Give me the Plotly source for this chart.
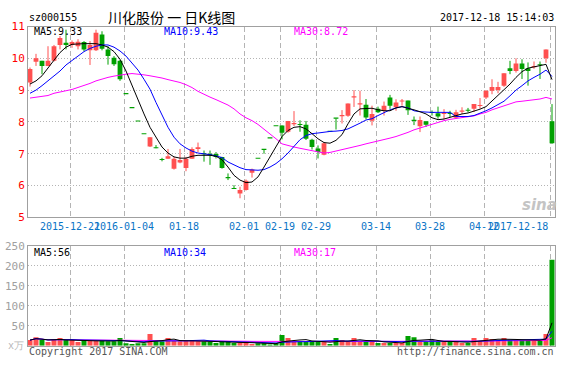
import plotly.graph_objects as go
import pandas as pd

# ---------------- data ----------------
opens = [9.24, 9.89, 9.92, 9.76, 9.92, 10.42, 10.49, 10.42, 10.38, 10.51, 10.25, 10.25, 10.75, 10.28, 10.02, 9.92,
         8.87, 8.43, 8.01, 7.61, 7.23, 7.20, 6.83, 6.84, 6.53, 6.72, 6.55, 6.84, 7.15, 7.00, 7.00, 6.99,
         6.90, 6.27, 5.92, 5.75, 5.86, 6.40, 6.84, 7.13, 7.48, 7.86, 7.89, 7.69, 7.93, 7.92, 7.91, 7.44,
         7.16, 6.97, 7.69, 8.11, 8.18, 8.19, 8.77, 8.55, 8.54, 8.04, 8.41, 8.35, 8.77, 8.46, 8.64, 8.67,
         8.05, 7.86, 8.02, 8.30, 8.27, 8.25, 8.27, 8.13, 8.32, 8.37, 8.41, 8.50, 8.77, 8.98, 9.00, 9.14,
         9.69, 9.60, 9.84, 9.69, 9.72, 9.80, 10.00, 8.02]
highs = [9.71, 10.14, 9.92, 10.38, 10.42, 10.70, 10.90, 10.56, 10.60, 10.54, 10.54, 10.90, 10.85, 10.38, 10.07, 9.95,
         8.87, 8.43, 8.01, 7.61, 7.52, 7.27, 6.87, 7.15, 6.90, 7.15, 6.90, 7.20, 7.35, 7.10, 7.10, 7.05,
         6.90, 6.38, 6.01, 5.96, 6.19, 6.53, 6.84, 7.13, 7.48, 7.86, 7.89, 8.03, 8.34, 8.05, 8.03, 7.47,
         7.26, 7.36, 7.69, 8.11, 8.37, 8.58, 9.00, 8.98, 8.72, 8.51, 8.48, 8.64, 8.85, 8.71, 8.72, 8.67,
         8.17, 8.17, 8.02, 8.36, 8.48, 8.40, 8.35, 8.38, 8.46, 8.44, 8.56, 8.75, 9.00, 9.34, 9.26, 9.53,
         9.92, 10.00, 9.97, 9.87, 9.90, 9.90, 10.28, 8.56]
lows = [9.11, 9.76, 9.50, 9.76, 9.90, 10.28, 10.28, 10.33, 10.28, 10.22, 9.79, 10.23, 10.25, 9.80, 9.76, 9.29,
        8.87, 8.43, 8.01, 7.61, 7.21, 7.17, 6.76, 6.84, 6.50, 6.70, 6.45, 6.84, 7.05, 6.75, 6.65, 6.85,
        6.53, 6.17, 5.89, 5.60, 5.84, 6.25, 6.84, 7.00, 7.48, 7.86, 7.45, 7.66, 7.87, 7.69, 7.43, 7.13,
        6.85, 6.95, 7.69, 7.76, 7.95, 8.16, 8.47, 8.20, 8.08, 7.89, 8.28, 8.20, 8.41, 8.35, 8.51, 8.22,
        7.90, 7.68, 7.84, 8.20, 8.10, 8.08, 8.15, 8.10, 8.25, 8.30, 8.31, 8.42, 8.72, 8.87, 8.90, 9.10,
        9.50, 9.55, 9.35, 9.14, 9.67, 9.35, 9.86, 7.31]
closes = [9.66, 10.00, 9.76, 9.92, 10.38, 10.64, 10.42, 10.51, 10.52, 10.28, 10.42, 10.80, 10.30, 10.07, 9.81, 9.34,
          8.87, 8.43, 8.01, 7.61, 7.52, 7.17, 6.80, 6.92, 6.84, 6.80, 6.84, 7.15, 7.20, 6.98, 6.95, 6.90,
          6.55, 6.23, 5.89, 5.86, 6.15, 6.50, 6.84, 7.12, 7.48, 7.86, 7.66, 8.03, 7.96, 7.90, 7.47, 7.21,
          7.05, 7.33, 7.69, 8.10, 8.20, 8.58, 8.79, 8.57, 8.14, 8.25, 8.30, 8.51, 8.51, 8.61, 8.66, 8.37,
          8.03, 8.06, 7.91, 8.28, 8.17, 8.27, 8.25, 8.30, 8.34, 8.35, 8.56, 8.52, 8.98, 9.10, 9.10, 9.53,
          9.60, 9.84, 9.66, 9.60, 9.74, 9.78, 10.28, 7.33]
volumes = [14, 21, 14, 9, 16, 19, 14, 14, 9, 14, 12, 12, 12, 11, 11, 19,
           6, 4, 6, 6, 29, 11, 11, 19, 12, 11, 12, 12, 11, 11, 10, 7,
           10, 10, 7, 7, 10, 4, 6, 6, 3, 6, 27, 19, 10, 10, 10, 10,
           10, 10, 4, 19, 14, 10, 19, 12, 10, 12, 7, 7, 7, 7, 7, 24,
           21, 10, 10, 14, 10, 10, 10, 10, 7, 7, 19, 12, 19, 17, 14, 19,
           14, 14, 14, 14, 14, 14, 29, 215]
ma5 = [9.19, 9.29, 9.45, 9.71, 9.94, 10.18, 10.35, 10.44, 10.46, 10.46, 10.46, 10.46, 10.42, 10.35, 10.21, 9.97,
       9.60, 9.14, 8.72, 8.25, 7.83, 7.50, 7.21, 7.02, 6.90, 6.86, 6.86, 6.92, 6.95, 6.95, 6.95, 6.92,
       6.81, 6.58, 6.32, 6.17, 6.09, 6.11, 6.27, 6.58, 6.90, 7.23, 7.54, 7.73, 7.83, 7.85, 7.78, 7.63,
       7.47, 7.35, 7.33, 7.42, 7.60, 7.94, 8.25, 8.41, 8.43, 8.43, 8.38, 8.35, 8.35, 8.44, 8.48, 8.44,
       8.38, 8.32, 8.25, 8.13, 8.07, 8.09, 8.15, 8.20, 8.25, 8.28, 8.33, 8.40, 8.48, 8.65, 8.82, 9.00,
       9.19, 9.40, 9.58, 9.69, 9.73, 9.76, 9.81, 9.33]
ma10 = [8.90, 9.00, 9.14, 9.29, 9.45, 9.60, 9.79, 9.94, 10.07, 10.21, 10.31, 10.38, 10.42, 10.42, 10.35, 10.23,
        10.07, 9.86, 9.63, 9.34, 9.03, 8.61, 8.20, 7.83, 7.52, 7.31, 7.18, 7.08, 7.02, 7.00, 6.97, 6.93,
        6.88, 6.74, 6.64, 6.56, 6.50, 6.48, 6.48, 6.50, 6.58, 6.69, 6.84, 7.02, 7.23, 7.44, 7.57, 7.63,
        7.65, 7.68, 7.70, 7.71, 7.73, 7.78, 7.86, 7.96, 8.06, 8.10, 8.20, 8.30, 8.38, 8.44, 8.48, 8.44,
        8.35, 8.32, 8.30, 8.30, 8.30, 8.30, 8.30, 8.17, 8.17, 8.17, 8.20, 8.27, 8.35, 8.44, 8.54, 8.65,
        8.82, 9.00, 9.14, 9.29, 9.40, 9.50, 9.63, 9.43]
ma30 = [8.75, 8.77, 8.79, 8.83, 8.90, 8.95, 8.98, 9.02, 9.08, 9.14, 9.21, 9.29, 9.35, 9.40, 9.44, 9.48,
        9.50, 9.52, 9.51, 9.48, 9.45, 9.42, 9.38, 9.33, 9.29, 9.24, 9.17, 9.08, 8.96, 8.86, 8.78, 8.70,
        8.62, 8.53, 8.41, 8.25, 8.13, 8.04, 7.92, 7.78, 7.63, 7.47, 7.31, 7.25, 7.21, 7.17, 7.13, 7.08,
        7.04, 7.02, 7.04, 7.08, 7.13, 7.17, 7.21, 7.26, 7.31, 7.35, 7.40, 7.44, 7.49, 7.54, 7.60, 7.67,
        7.75, 7.81, 7.88, 7.94, 7.99, 8.04, 8.08, 8.11, 8.15, 8.17, 8.19, 8.25, 8.30, 8.38, 8.44, 8.50,
        8.56, 8.63, 8.65, 8.67, 8.69, 8.72, 8.77, 8.72]
tick_idx = [7, 16, 26, 36, 42, 48, 58, 67, 76, 87]
tick_labels = ["2015-12-21", "2016-01-04", "01-18", "02-01", "02-19", "02-29",
               "03-14", "03-28", "04-12", "2017-12-18"]
price_ticks = [5, 6, 7, 8, 9, 10, 11]
vol_ticks = [50, 100, 150, 200, 250]

# ---------------- styling ----------------
W, H = 568, 365
RED, GREEN = "#FF5050", "#00A000"
MONO = "DejaVu Sans Mono"
GRID = "#B4B4B4"
FRAME = "#A0A0A0"
DATE_BLUE = "#0A74C6"

def fx(px):
    return px / W

def fy(py):
    return 1 - py / H

n = len(closes)
idx = list(range(n))
colors = [RED if c > o else GREEN for o, c in zip(opens, closes)]

fig = go.Figure()

# wicks
for col in (RED, GREEN):
    xs, ys = [], []
    for i in idx:
        if colors[i] == col:
            xs += [i, i, None]
            ys += [lows[i], highs[i], None]
    fig.add_trace(go.Scatter(x=xs, y=ys, mode="lines", line=dict(color=col, width=1),
                             hoverinfo="skip", xaxis="x", yaxis="y"))

# bodies
fig.add_trace(go.Bar(x=idx, base=[min(o, c) for o, c in zip(opens, closes)],
                     y=[max(abs(c - o), 0.035) for o, c in zip(opens, closes)],
                     width=0.8, marker=dict(color=colors, line=dict(width=0)),
                     xaxis="x", yaxis="y"))

# price MAs
for arr, col in ((ma30, "#FF00FF"), (ma10, "#0000FF"), (ma5, "#000000")):
    fig.add_trace(go.Scatter(x=idx, y=arr, mode="lines", line=dict(color=col, width=1),
                             xaxis="x", yaxis="y"))

# volume
fig.add_trace(go.Bar(x=idx, y=volumes, width=0.84, marker=dict(color=colors, line=dict(width=0)),
                     xaxis="x2", yaxis="y2"))
vs = pd.Series(volumes, dtype=float)
for win, col in ((30, "#FF00FF"), (10, "#0000FF"), (5, "#000000")):
    fig.add_trace(go.Scatter(x=idx, y=vs.rolling(win, min_periods=1).mean(), mode="lines",
                             line=dict(color=col, width=1), xaxis="x2", yaxis="y2"))

xr = [-1 / 3, 87.5]
grid_x = [t - 1 / 3 for t in tick_idx]
xcommon = dict(range=xr, showline=True, mirror=True, linecolor=FRAME, linewidth=1,
               showgrid=True, gridcolor=GRID, griddash="5px,3px", gridwidth=1,
               zeroline=False, tickmode="array", tickvals=grid_x, ticks="",
               fixedrange=True, domain=[fx(28), fx(555)])

# last date label is right-aligned at its gridline (drawn separately below)
axis_labels = tick_labels[:-1] + [""]

fig.update_layout(
    width=W, height=H, margin=dict(l=0, r=0, t=0, b=0),
    paper_bgcolor="white", plot_bgcolor="white", showlegend=False,
    hovermode=False, template="none", barmode="overlay",
    xaxis=dict(xcommon, anchor="y", ticktext=axis_labels, tickangle=0,
               tickfont=dict(family=MONO, size=10, color=DATE_BLUE)),
    xaxis2=dict(xcommon, anchor="y2", showticklabels=False),
    yaxis=dict(domain=[fy(217.3), fy(26.5)], range=[5, 11], anchor="x",
               showline=True, mirror=True, linecolor=FRAME, linewidth=1,
               showgrid=True, gridcolor=GRID, griddash="1px,2px", zeroline=False,
               tickmode="array", tickvals=price_ticks, ticks="",
               tickfont=dict(family=MONO, size=11, color="#FF0000"), fixedrange=True),
    yaxis2=dict(domain=[fy(345.7), fy(245.7)], range=[0, 250], anchor="x2",
                showline=True, mirror=True, linecolor=FRAME, linewidth=1,
                showgrid=True, gridcolor=GRID, griddash="1px,2px", zeroline=False,
                tickmode="array", tickvals=vol_ticks, ticks="",
                tickfont=dict(family=MONO, size=11, color="#A0A0A0"), fixedrange=True),
)

def ann(text, x, y, color="#000", size=10, xanchor="left", family=MONO, **kw):
    fig.add_annotation(text=text, x=fx(x), y=fy(y), xref="paper", yref="paper",
                       xanchor=xanchor, yanchor="middle", showarrow=False,
                       font=dict(family=family, size=size, color=color), **kw)

fig.add_annotation(text=tick_labels[-1], x=grid_x[-1], xref="x", y=fy(226), yref="paper",
                   xanchor="right", yanchor="middle", showarrow=False,
                   font=dict(family=MONO, size=10, color=DATE_BLUE))

ann("sz000155", 27, 17)
ann("川化股份 一 日K线图", 106, 17, size=14, family="Noto Sans CJK SC")
ann("2017-12-18 15:14:03", 556, 17, xanchor="right")
ann("MA5:9.33", 32, 32)
ann("MA10:9.43", 162, 32, color="#0000FF")
ann("MA30:8.72", 292, 32, color="#FF00FF")
ann("MA5:56", 32, 252)
ann("MA10:34", 162, 252, color="#0000FF")
ann("MA30:17", 292, 252, color="#FF00FF")
ann("x万", 6, 345, color="#B8B8B8", size=10)
ann("Copyright 2017 SINA.COM", 27, 351, color="#555555")
ann("http://finance.sina.com.cn", 556, 351, color="#555555", xanchor="right")
ann("<b><i>sina</i></b>", 539, 205, color="#C4C4C4", size=15, xanchor="center",
    family="DejaVu Sans")

fig.write_html("out.html", config={"displayModeBar": False, "staticPlot": True},
               post_script="document.body.style.margin='0';")
